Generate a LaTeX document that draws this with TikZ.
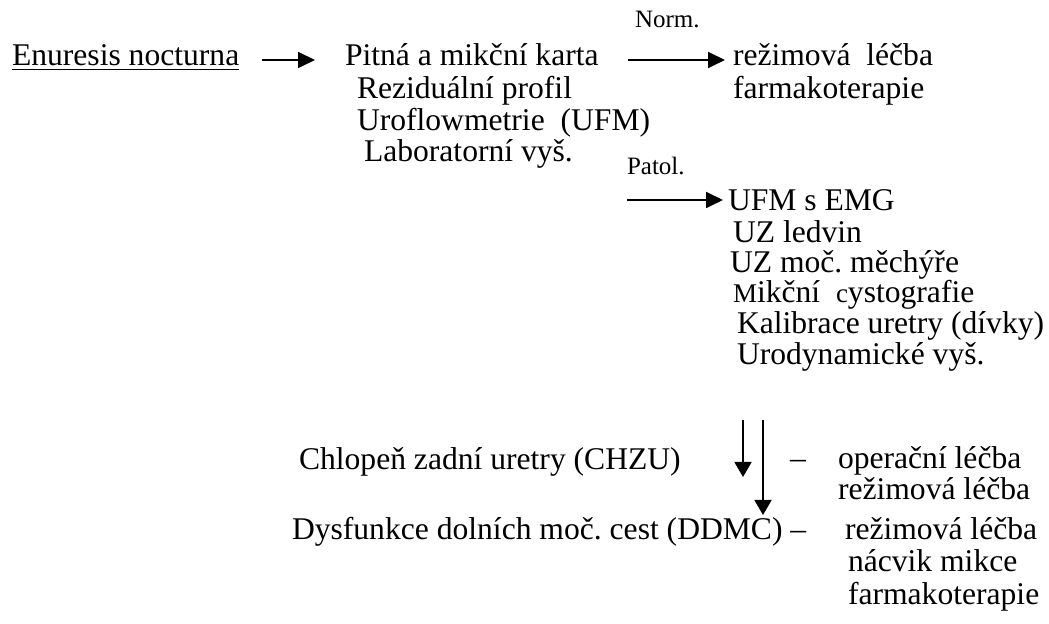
\documentclass[tikz,border=0pt]{standalone}
\usepackage{fontspec}
\setmainfont{Liberation Serif}
\usetikzlibrary{arrows.meta,calc}
\frenchspacing
\tikzset{
  txt/.style={anchor=base west,inner sep=0pt,outer sep=0pt,font=\fontsize{15.8}{16}\selectfont},
  small/.style={anchor=base west,inner sep=0pt,outer sep=0pt,font=\fontsize{12.5}{13}\selectfont},
  arr/.style={line width=0.9pt,-{Triangle[length=8.5pt,width=8pt]}},
  varr/.style={line width=0.9pt,-{Triangle[length=7.5pt,width=8.5pt]}}
}
\begin{document}
\begin{tikzpicture}[x=0.5pt,y=-0.5pt]
\useasboundingbox (0,0) rectangle (1049,624);
\node[txt] (enur) at (12,66) {Enuresis nocturna};
\draw[line width=0.8pt] ($(enur.base west)+(0,3.5)$) -- ($(enur.base east)+(0,3.5)$);
\node[txt] (pitna) at (345,66) {Pitná a mikční karta};
\node[txt] (rezid) at (357,99) {Reziduální profil};
\node[txt] (urofl) at (357,131) {Uroflowmetrie\ \ (UFM)};
\node[txt] (lab) at (364,162) {Laboratorní vyš.};
\node[small] (norm) at (635,28) {Norm.};
\node[txt] (rez1) at (733,66) {režimová\ \ léčba};
\node[txt] (farm1) at (733,99) {farmakoterapie};
\node[small] (patol) at (627,175) {Patol.};
\node[txt] (ufm) at (728,211) {UFM s EMG};
\node[txt] (uzl) at (733,243) {UZ ledvin};
\node[txt] (uzm) at (730,273) {UZ moč. měchýře};
\node[txt] (mik) at (733,303) {{\fontsize{13.5}{14}\selectfont M}ikční\ \ {\fontsize{13.5}{14}\selectfont c}ystografie};
\node[txt] (kal) at (737,334) {Kalibrace uretry (dívky)};
\node[txt] (urod) at (737,365) {Urodynamické vyš.};
\node[txt] (chl) at (299,470) {Chlopeň zadní uretry (CHZU)};
\node[txt] (dash1) at (790,469) {–};
\node[txt] (op) at (838,469) {operační léčba};
\node[txt] (rez2) at (838,500) {režimová léčba};
\node[txt] (dys) at (292,540) {Dysfunkce dolních moč. cest (DDMC) –};
\node[txt] (rez3) at (845,540) {režimová léčba};
\node[txt] (nac) at (848,572) {nácvik mikce};
\node[txt] (farm2) at (848,604) {farmakoterapie};
% connectors
\draw[arr] ($(enur.base east)+(23,-6)$) -- ($(pitna.base west)+(-30,-6)$);
\draw[arr] ($(pitna.base east -| norm.base west)+(-7,-6)$) -- ($(rez1.base west)+(-8,-6)$);
\draw[arr] ($(ufm.base west -| patol.base west)+(0,-11)$) -- ($(ufm.base west)+(-5,-11)$);
\draw[varr] ($(urod.base west)+(6,55)$) -- ($(chl.base west -| urod.base west)+(6,7)$);
\draw[varr] ($(urod.base west)+(26,55)$) -- ($(dys.base west -| urod.base west)+(26,-25)$);
\end{tikzpicture}
\end{document}
